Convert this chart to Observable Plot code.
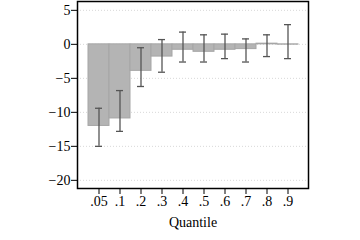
<!DOCTYPE html>
<html><head><meta charset="utf-8">
<script src="https://cdn.jsdelivr.net/npm/d3@7"></script>
<script src="https://cdn.jsdelivr.net/npm/@observablehq/plot@0.6"></script>
<style>
body{margin:0;background:#fff}
</style>
</head><body><div id="chart"></div>
<script>
const quantiles = [".05", ".1", ".2", ".3", ".4", ".5", ".6", ".7", ".8", ".9"];
const estimates = [-12.0, -10.9, -3.9, -1.8, -0.8, -1.1, -0.8, -0.7, 0.1, -0.05];
const upper = [-9.4, -6.8, -0.5, 0.7, 1.8, 1.4, 1.5, 0.8, 1.4, 2.9];
const lower = [-15.0, -12.8, -6.2, -4.1, -2.6, -2.6, -2.1, -2.6, -1.8, -2.1];
const yTicks = [-20, -15, -10, -5, 0, 5];

const data = quantiles.map((q, i) => ({q, est: estimates[i], hi: upper[i], lo: lower[i]}));

const chart = Plot.plot({
  width: 360, height: 240,
  marginLeft: 77, marginRight: 52, marginTop: 1, marginBottom: 52,
  style: {fontFamily: "Liberation Serif, serif", fontSize: "14px", color: "#000", background: "#fff"},
  x: {domain: quantiles, paddingInner: 0, paddingOuter: 0.4, label: "Quantile", labelAnchor: "center", labelOffset: 38, tickSize: 6, tickPadding: 2},
  y: {domain: [-21.2, 6.3], ticks: yTicks, label: null, tickSize: 6, tickPadding: 1},
  marks: [
    Plot.ruleY(yTicks, {stroke: "#d8d8d8", strokeDasharray: "1,2"}),
    Plot.barY(data, {x: "q", y: "est", fill: "#b4b4b4", stroke: "#a6a6a6", strokeWidth: 1, inset: 0}),
    Plot.ruleX(data, {x: "q", y1: "lo", y2: "hi", stroke: "#555", strokeWidth: 1.3}),
    Plot.tickY(data, {x: "q", y: "hi", stroke: "#555", strokeWidth: 1.3, insetLeft: 7, insetRight: 7}),
    Plot.tickY(data, {x: "q", y: "lo", stroke: "#555", strokeWidth: 1.3, insetLeft: 7, insetRight: 7}),
    Plot.frame({stroke: "#000", strokeWidth: 1.5})
  ]
});
d3.select(chart).selectAll("text, g").attr("font-family", "Liberation Serif, serif").attr("font-size", 14);
d3.select(chart).selectAll("text").style("font-family", "Liberation Serif, serif").style("font-size", "14px");
document.getElementById("chart").appendChild(chart);
</script></body></html>
